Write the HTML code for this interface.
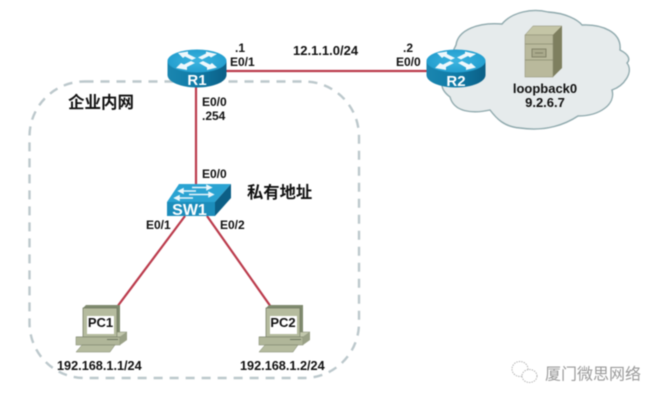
<!DOCTYPE html>
<html><head><meta charset="utf-8"><style>
html,body{margin:0;padding:0;background:#fff;width:662px;height:403px;overflow:hidden}
svg{display:block;filter:blur(.4px)}
text{font-family:"Liberation Sans","Noto Sans CJK SC",sans-serif;font-weight:bold;fill:#111;font-size:12px}
</style></head><body>
<svg width="662" height="403" viewBox="0 0 662 403" xmlns="http://www.w3.org/2000/svg">
<defs>
<linearGradient id="side" x1="0" x2="1" y1="0" y2="0"><stop offset="0" stop-color="#1b86b0"/><stop offset=".5" stop-color="#0f7aa6"/><stop offset="1" stop-color="#0c5f86"/></linearGradient>
<radialGradient id="top" cx=".5" cy=".5" r=".6"><stop offset="0" stop-color="#3db4e0"/><stop offset="1" stop-color="#1f9bcc"/></radialGradient>
<g id="router">
<path d="M-29.500,0 V14 C-29.500,21 -16,26.500 0,26.500 C16,26.500 29.500,21 29.500,14 V0 Z" fill="url(#side)"/>
<ellipse cx="0" cy="0" rx="29.500" ry="11.500" fill="url(#top)"/>
<g fill="#eef8fc">
<path d="M-19,-8 L-9,-9.500 L-9,-7 L-1,-3 L-5,-1 L-12,-4.500 L-14,-3 Z"/>
<path d="M20,-7 L9,-9.500 L9,-7.500 L1,-3.500 L5,-1.500 L12,-5 L14,-3.500 Z"/>
<path d="M-21,7 L-10,9 L-10,6 L-2,2 L-6,0 L-13,3.500 L-16,2 Z"/>
<path d="M20,6.500 L10,9 L10,6.500 L2,2 L6,0 L13,3.500 L15,2 Z"/>
</g>
</g>
<g id="pc">
<path d="M35,13 L38,10 H72 V39 L69,42 H35 Z" fill="#7f8a6e"/>
<rect x="35" y="13" width="34" height="29" fill="#b5bb9e" stroke="#6f7760" stroke-width=".7"/>
<rect x="39" y="21" width="27" height="18" fill="#fff"/>
<path d="M28,42 H72 L79,37 H69 V39 L69,42 Z" fill="#c2c7ac" stroke="#7a826a" stroke-width=".5"/>
<rect x="28" y="42" width="44" height="8" fill="#b0b699" stroke="#7a826a" stroke-width=".5"/>
<path d="M72,50 V42 L79,37 V45 Z" fill="#9aa186"/>
<path d="M59,44.500 H70" stroke="#6f7760" stroke-width="1"/>
<path d="M34,50 H67 L62,57 H28 Z" fill="#b5bb9e" stroke="#7a826a" stroke-width=".5"/>
</g>
</defs>

<rect x="29.500" y="81.500" width="329.500" height="296.500" rx="55" ry="55" fill="none" stroke="#bcc8cc" stroke-width="2.400" stroke-dasharray="9 7"/>

<path d="M456,45 C458,30 478,22 502,24 C512,12 532,8 548,12 C566,13 578,20 582,25 C602,24 622,32 620,50 C630,55 630,60 627,63 C634,72 624,86 612,90 C616,104 600,116 578,116 C566,124 546,132 520,128 C504,127 496,118 490,110 C472,114 454,112 450,97 C438,88 440,78 452,72 C450,60 452,52 456,45 Z" fill="#e6ebec" stroke="#8fa9ad" stroke-width="1.400"/>

<g stroke="#bb3b4c" stroke-width="2.200" fill="none">
<line x1="197" y1="71" x2="440" y2="71"/>
<line x1="196" y1="85" x2="196" y2="186"/>
<line x1="185" y1="216" x2="117" y2="307"/>
<line x1="207" y1="216" x2="271" y2="307"/>
</g>

<use href="#router" x="197" y="61"/>
<use href="#router" x="456" y="61"/>
<text x="197" y="85" text-anchor="middle" style="font-size:15px;fill:#fff">R1</text>
<text x="456" y="86" text-anchor="middle" style="font-size:15px;fill:#fff">R2</text>

<path d="M525,35 L533,26 H562 L553,35 Z" fill="#c4c5a6" stroke="#8b8c72" stroke-width=".5"/>
<path d="M553,35 L562,26 V68 L553,77 Z" fill="#7e7f5f"/>
<rect x="525" y="35" width="28" height="42" fill="#b9b99c" stroke="#8b8c72" stroke-width=".5"/>
<path d="M525,44 H553 M525,60 H553" stroke="#8b8c72" stroke-width=".8"/>
<rect x="532" y="49" width="14" height="8" fill="#a9a98c" stroke="#77785e" stroke-width=".8"/>
<path d="M535,53 H543" stroke="#77785e" stroke-width=".8"/>

<path d="M167,202 L179,184 H231 L215,202 Z" fill="#2aa3d2"/>
<path d="M215,202 L231,184 V198 L215,216 Z" fill="#0c5f86"/>
<rect x="167" y="202" width="48" height="14" fill="#1c8dbb"/>
<g stroke="#eaf6fb" stroke-width="1.500" fill="#eaf6fb">
<path d="M179,191 H196"/><path d="M179,191 l4,-2 v4 z"/>
<path d="M192,187.500 H211"/><path d="M211,187.500 l-4,-2 v4 z"/>
<path d="M175,198 H193"/><path d="M175,198 l4,-2 v4 z"/>
<path d="M189,194.500 H213"/><path d="M213,194.500 l-4,-2 v4 z"/>
</g>
<text x="189.500" y="215" text-anchor="middle" style="font-size:16px;fill:#fff">SW1</text>

<use href="#pc" x="48" y="295"/>
<use href="#pc" x="231" y="295"/>
<text x="100.500" y="327" text-anchor="middle" style="font-size:13px">PC1</text>
<text x="283" y="327" text-anchor="middle" style="font-size:13px">PC2</text>

<text x="235" y="52">.1</text>
<text x="230" y="66">E0/1</text>
<text x="293" y="55" style="font-size:13px">12.1.1.0/24</text>
<text x="403" y="52">.2</text>
<text x="396" y="66">E0/0</text>
<text x="202" y="106">E0/0</text>
<text x="202" y="120">.254</text>
<text x="202" y="178">E0/0</text>
<text x="146" y="229">E0/1</text>
<text x="220" y="229">E0/2</text>
<text x="57" y="370" style="font-size:12.700px">192.168.1.1/24</text>
<text x="240" y="370" style="font-size:12.700px">192.168.1.2/24</text>
<text x="545" y="93" text-anchor="middle" style="font-size:13px">loopback0</text>
<text x="545" y="107" text-anchor="middle" style="font-size:13px">9.2.6.7</text>
<text x="68" y="108" style="font-size:16.500px">企业内网</text>
<text x="247" y="198" style="font-size:16.300px">私有地址</text>

<g fill="#fff" stroke="#b5b5b5" stroke-width="1" stroke-dasharray="1.500 1">
<ellipse cx="520" cy="369" rx="8" ry="7.500"/>
<ellipse cx="529.500" cy="376" rx="7.500" ry="6.500"/>
</g>
<text x="545" y="379.500" style="font-size:16px;font-weight:normal;fill:#9a9a9a">厦门微思网络</text>
</svg>
</body></html>
